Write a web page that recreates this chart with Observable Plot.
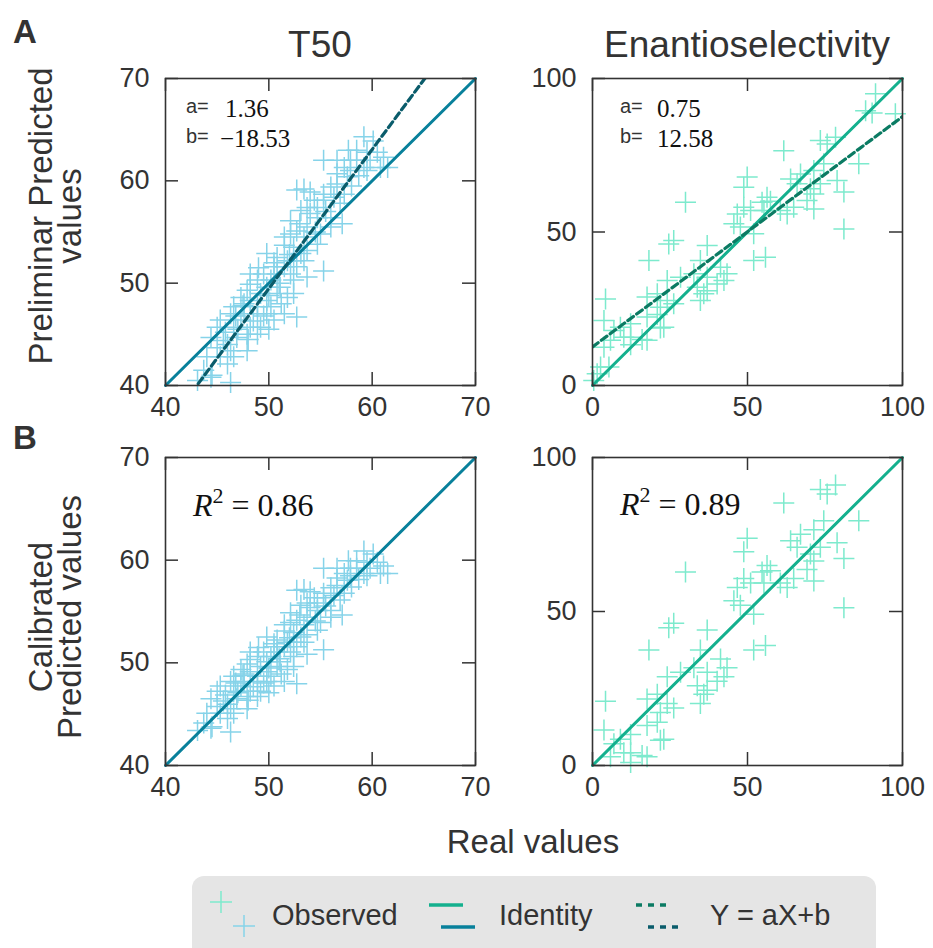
<!DOCTYPE html>
<html><head><meta charset="utf-8">
<script src="https://cdn.jsdelivr.net/npm/d3@7"></script>
<script src="https://cdn.jsdelivr.net/npm/@observablehq/plot@0.6"></script>
<style>
html,body{margin:0;padding:0;background:#fff;}
#root{position:relative;width:933px;height:948px;overflow:hidden;font-family:"Liberation Sans",Arial,Helvetica,sans-serif;color:#333;}
#legend{position:absolute;left:192px;top:876px;width:684px;height:90px;background:#e5e5e5;border-radius:12px;}
</style></head><body><div id="root"></div>
<script>
// ---- data ----
const t50Real = [59.2,60.1,58.5,59.5,57.7,55.3,56.6,61.1,60.8,61.5,57.3,57.9,59.2,59.8,57.9,56.6,57.6,58.7,53.4,52.7,54.0,55.3,56.3,54.4,53.7,54.7,56.0,57.3,56.9,54.0,54.7,56.0,57.1,53.7,52.7,52.1,53.4,54.7,52.4,53.1,53.7,55.3,51.5,50.8,49.8,51.8,52.7,52.1,50.5,49.5,48.2,48.9,50.2,51.1,52.4,49.2,47.9,47.3,48.2,49.8,50.8,51.8,52.4,46.6,47.6,48.9,50.2,51.5,52.7,46.3,47.3,48.2,49.2,50.5,45.0,46.6,47.9,48.9,44.4,45.6,46.9,45.0,46.3,47.9,44.0,45.3,46.6,46.0,43.7,44.5,43.1,46.3,44.4,48.2,49.8,50.8,51.5,53.4,52.4,53.7,47.6,48.9,49.8,45.3,51.5,52.1,53.1,55.3,56.0,55.0,56.6,59.5,58.5,46.0,47.0,48.5,49.5,50.0,51.0,49.0,50.5,47.5,46.8,45.8,48.0,51.2,50.0,52.0,53.0,54.5,55.5,58.0,60.5];
const t50Pred = [64.3,63.9,63.0,62.8,63.0,62.0,62.0,62.3,61.3,61.3,61.3,61.0,61.3,62.0,62.0,60.7,60.4,60.5,59.2,59.1,58.9,58.7,58.4,58.1,57.4,57.4,59.4,58.7,57.8,56.8,56.4,56.4,55.8,55.5,55.1,54.8,54.5,53.8,53.5,52.9,53.2,51.2,53.7,52.5,52.9,52.2,51.6,50.9,51.6,50.9,50.9,50.3,50.3,49.6,50.3,49.0,49.3,48.6,48.3,48.3,49.0,48.6,49.0,47.7,47.0,47.0,47.7,47.0,46.7,47.0,46.4,45.7,45.7,46.4,45.7,45.7,45.0,45.0,44.7,44.4,44.7,43.7,43.4,43.4,42.8,42.8,42.8,42.1,41.5,41.0,40.5,40.3,40.8,49.9,49.6,50.9,51.6,52.2,52.2,50.6,48.0,47.7,47.0,46.4,54.5,56.1,57.1,58.1,55.5,54.8,59.7,61.0,62.0,44.0,45.5,46.3,46.8,48.8,50.0,51.5,52.0,47.8,46.8,45.2,44.5,48.0,45.5,52.8,55.8,55.0,57.0,59.5,62.8];
const eeReal = [91.3,97.7,88.1,90.2,73.5,78.4,75.7,61.7,85.9,74.6,71.4,67.1,63.9,66.0,70.3,73.5,81.1,78.9,49.9,48.8,30.0,54.7,56.3,48.8,46.7,51.0,55.3,69.2,71.4,62.8,60.6,64.9,45.6,47.7,81.1,26.2,24.6,37.0,52.0,52.0,55.8,34.8,18.2,41.3,43.4,32.7,37.0,28.4,24.1,40.2,33.8,37.0,20.9,17.6,24.1,21.9,26.2,34.8,35.9,42.4,17.6,23.0,12.3,9.0,4.2,3.7,6.9,10.1,12.3,17.6,5.8,3.7,2.6,1.5,5.3,0.4,16.0,21.9,12.3,20.9,57.4,71.4];
const eePred = [95.0,88.5,89.5,88.8,79.8,80.9,78.7,76.5,72.2,72.2,70.0,68.9,67.3,65.7,64.1,65.7,63.0,66.8,67.9,64.6,59.7,59.7,61.3,58.1,55.9,57.0,57.0,60.3,57.5,55.9,57.0,58.1,52.7,51.6,51.0,47.2,46.1,45.6,49.4,40.7,41.8,40.7,40.7,38.5,36.4,36.4,35.3,35.3,34.2,33.1,32.0,30.9,29.9,28.8,27.7,25.5,26.6,27.7,29.9,34.2,22.3,19.0,20.1,19.0,28.2,21.2,17.9,15.7,15.7,14.7,14.7,12.5,6.0,3.8,6.0,1.6,15.0,18.7,13.3,23.1,60.0,62.4];
const fitA = [1.36, 0.75];
const fitB = [-18.53, 12.58];
const r2 = [0.86, 0.89];
const t50Ticks = [40, 50, 60, 70];
const eeTicks = [0, 50, 100];
const titles = ["T50", "Enantioselectivity"];
const rowLabels = [["Preliminar Predicted", "values"], ["Calibrated", "Predicted values"]];
const xLabel = "Real values";
const legendLabels = ["Observed", "Identity", "Y = aX+b"];

// ---- drawing ----
const FONT = '"Liberation Sans", Arial, Helvetica, sans-serif';
const SERIF = '"Liberation Serif", "Times New Roman", serif';
const root = document.getElementById("root");
const plusSymbol = {draw(ctx, size) {
  const r = Math.sqrt(size / Math.PI);
  ctx.moveTo(-r, 0); ctx.lineTo(r, 0); ctx.moveTo(0, -r); ctx.lineTo(0, r);
}};
const colors = [
  {pt: "#86d3e9", id: "#08809b", fit: "#0a5c6b"},
  {pt: "#7deacd", id: "#14b08e", fit: "#0b7b63"}
];

function panel({left, top, H, real, pred, k, ticks, calib}) {
  const lo = ticks[0], hi = ticks[ticks.length - 1];
  const W = 310, mL = 70, mR = 20, mT = 15, mB = 45;
  const a = fitA[k], b = fitB[k];
  const pts = real.map((x, i) => ({x, y: calib ? (pred[i] - b) / a : pred[i]}));
  const c = colors[k];
  const marks = [
    Plot.dot(pts, {x: "x", y: "y", r: 10.5, symbol: plusSymbol, fill: "none", stroke: c.pt, strokeWidth: 1.5,
      filter: d => d.y >= lo && d.y <= hi}),
    Plot.line([{x: lo, y: lo}, {x: hi, y: hi}], {x: "x", y: "y", stroke: c.id, strokeWidth: 3})
  ];
  if (!calib) marks.push(Plot.line([{x: lo, y: a * lo + b}, {x: hi, y: a * hi + b}],
    {x: "x", y: "y", stroke: c.fit, strokeWidth: 3.2, strokeDasharray: "7,4", clip: true}));
  const tl = 13;
  marks.push(
    Plot.tickX(ticks, {x: d => d, stroke: "#333", strokeWidth: 1.5, insetTop: H - tl}),
    Plot.tickX(ticks, {x: d => d, stroke: "#333", strokeWidth: 1.5, insetBottom: H - tl}),
    Plot.tickY(ticks, {y: d => d, stroke: "#333", strokeWidth: 1.5, insetRight: W - tl}),
    Plot.tickY(ticks, {y: d => d, stroke: "#333", strokeWidth: 1.5, insetLeft: W - tl}),
    Plot.frame({stroke: "#333", strokeWidth: 1.6})
  );
  const svg = Plot.plot({
    width: W + mL + mR, height: H + mT + mB,
    marginLeft: mL, marginRight: mR, marginTop: mT, marginBottom: mB,
    x: {domain: [lo, hi], ticks, tickSize: 0, tickPadding: 11, label: null},
    y: {domain: [lo, hi], ticks, tickSize: 0, tickPadding: 16, label: null},
    style: {fontFamily: FONT, fontSize: "27px", color: "#333", background: "transparent", overflow: "visible"},
    marks
  });
  svg.style.position = "absolute";
  svg.style.left = left + "px";
  svg.style.top = top + "px";
  root.appendChild(svg);
}

panel({left: 95, top: 63, H: 307, real: t50Real, pred: t50Pred, k: 0, ticks: t50Ticks, calib: false});
panel({left: 522, top: 63, H: 307, real: eeReal, pred: eePred, k: 1, ticks: eeTicks, calib: false});
panel({left: 95, top: 442, H: 308, real: t50Real, pred: t50Pred, k: 0, ticks: t50Ticks, calib: true});
panel({left: 522, top: 442, H: 308, real: eeReal, pred: eePred, k: 1, ticks: eeTicks, calib: true});

// ---- text overlay ----
const fmt = v => v.toFixed(2).replace("-", "\u2212");
const ann = [[186, 225, 220], [620, 657, 657]];
let s = `<svg xmlns="http://www.w3.org/2000/svg" width="933" height="948" style="position:absolute;left:0;top:0;pointer-events:none" font-family='${FONT}' fill="#333">`;
s += `<text x="320" y="57" font-size="37" text-anchor="middle">${titles[0]}</text>`;
s += `<text x="747" y="57" font-size="37" text-anchor="middle">${titles[1]}</text>`;
s += `<text x="533" y="853" font-size="33" text-anchor="middle">${xLabel}</text>`;
s += `<text x="13" y="43" font-size="33" font-weight="bold">A</text>`;
s += `<text x="13" y="449" font-size="33" font-weight="bold">B</text>`;
const rowCy = [216, 617];
rowLabels.forEach((ls, r) => {
  s += `<text transform="translate(52,${rowCy[r]}) rotate(-90)" font-size="33" text-anchor="middle">${ls[0]}</text>`;
  s += `<text transform="translate(81,${rowCy[r]}) rotate(-90)" font-size="33" text-anchor="middle">${ls[1]}</text>`;
});
[0, 1].forEach(k => {
  const [xa, xn1, xn2] = ann[k];
  s += `<text x="${xa}" y="113" font-size="20">a=</text>`;
  s += `<text x="${xn1}" y="116.5" font-size="25" font-family='${SERIF}' fill="#111">${fmt(fitA[k])}</text>`;
  s += `<text x="${xa}" y="143" font-size="20">b=</text>`;
  s += `<text x="${xn2}" y="147" font-size="25" font-family='${SERIF}' fill="#111">${fmt(fitB[k])}</text>`;
});
const r2x = [193, 620], r2y = [516, 515];
[0, 1].forEach(k => {
  s += `<text x="${r2x[k]}" y="${r2y[k]}" font-size="32" font-family='${SERIF}' fill="#111"><tspan font-style="italic">R</tspan><tspan font-size="22" dy="-13">2</tspan><tspan dy="13"> = ${r2[k].toFixed(2)}</tspan></text>`;
});
s += `</svg>`;
root.insertAdjacentHTML("beforeend", s);

// ---- legend ----
const leg = document.createElement("div");
leg.id = "legend";
const cross = (cx, cy, col) => `<path d="M${cx-11},${cy}H${cx+11}M${cx},${cy-11}V${cy+11}" stroke="${col}" stroke-width="1.5" fill="none"/>`;
let L = `<svg width="684" height="72" style="position:absolute;left:0;top:0" font-family='${FONT}' fill="#333">`;
L += cross(29, 26, colors[1].pt) + cross(52, 50, colors[0].pt);
L += `<text x="80" y="48.5" font-size="29">${legendLabels[0]}</text>`;
L += `<line x1="237" x2="271" y1="29" y2="29" stroke="${colors[1].id}" stroke-width="3.5"/>`;
L += `<line x1="249" x2="283" y1="51" y2="51" stroke="${colors[0].id}" stroke-width="3.5"/>`;
L += `<text x="307" y="48.5" font-size="29">${legendLabels[1]}</text>`;
L += `<line x1="444" x2="476" y1="29" y2="29" stroke="${colors[1].fit}" stroke-width="3.5" stroke-dasharray="6,6"/>`;
L += `<line x1="456" x2="489" y1="51" y2="51" stroke="${colors[0].fit}" stroke-width="3.5" stroke-dasharray="6,6"/>`;
L += `<text x="518" y="48.5" font-size="29">${legendLabels[2]}</text>`;
L += `</svg>`;
leg.innerHTML = L;
root.appendChild(leg);
</script>
</body></html>
